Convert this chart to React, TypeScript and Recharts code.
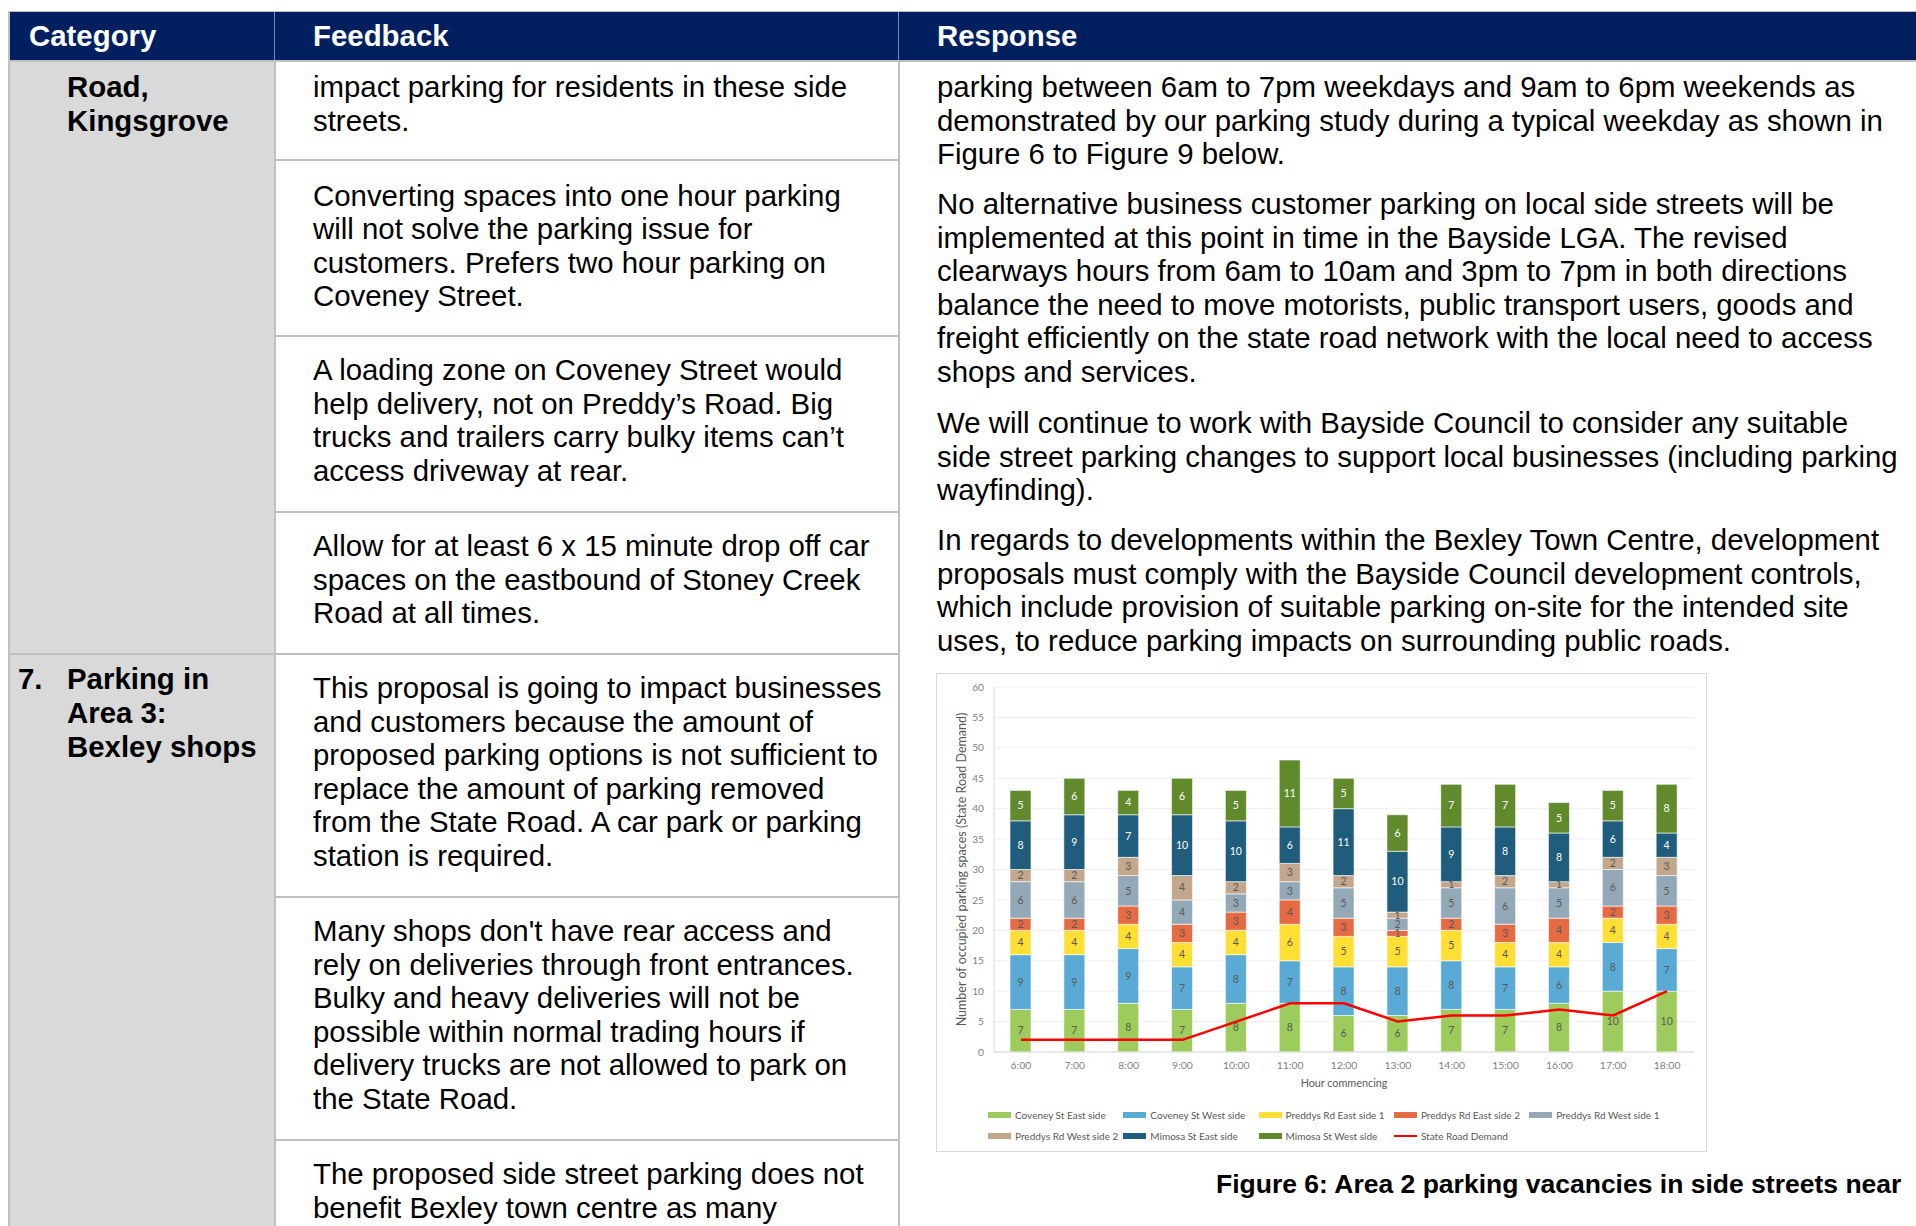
import React from 'react';
import { ComposedChart, Bar, Line, XAxis, YAxis, CartesianGrid, LabelList } from 'recharts';

// ---------- chart data ----------
const hours = ['6:00', '7:00', '8:00', '9:00', '10:00', '11:00', '12:00', '13:00', '14:00', '15:00', '16:00', '17:00', '18:00'];
const coveneyEast = [7, 7, 8, 7, 8, 8, 6, 6, 7, 7, 8, 10, 10];
const coveneyWest = [9, 9, 9, 7, 8, 7, 8, 8, 8, 7, 6, 8, 7];
const preddysEast1 = [4, 4, 4, 4, 4, 6, 5, 5, 5, 4, 4, 4, 4];
const preddysEast2 = [2, 2, 3, 3, 3, 4, 3, 1, 2, 3, 4, 2, 3];
const preddysWest1 = [6, 6, 5, 4, 3, 3, 5, 2, 5, 6, 5, 6, 5];
const preddysWest2 = [2, 2, 3, 4, 2, 3, 2, 1, 1, 2, 1, 2, 3];
const mimosaEast = [8, 9, 7, 10, 10, 6, 11, 10, 9, 8, 8, 6, 4];
const mimosaWest = [5, 6, 4, 6, 5, 11, 5, 6, 7, 7, 5, 5, 8];
const stateRoadDemand = [2, 2, 2, 2, 5, 8, 8, 5, 6, 6, 7, 6, 10];
const yTicks = [0, 5, 10, 15, 20, 25, 30, 35, 40, 45, 50, 55, 60];

const barSeries = [
  { key: 'ce', name: 'Coveney St East side', values: coveneyEast, color: '#9DCB5C', label: '#595959' },
  { key: 'cw', name: 'Coveney St West side', values: coveneyWest, color: '#5AAAD6', label: '#595959' },
  { key: 'pe1', name: 'Preddys Rd East side 1', values: preddysEast1, color: '#FFDF33', label: '#595959' },
  { key: 'pe2', name: 'Preddys Rd East side 2', values: preddysEast2, color: '#E56B45', label: '#595959' },
  { key: 'pw1', name: 'Preddys Rd West side 1', values: preddysWest1, color: '#93A9B8', label: '#595959' },
  { key: 'pw2', name: 'Preddys Rd West side 2', values: preddysWest2, color: '#C2A78C', label: '#595959' },
  { key: 'me', name: 'Mimosa St East side', values: mimosaEast, color: '#205C7B', label: '#ffffff' },
  { key: 'mw', name: 'Mimosa St West side', values: mimosaWest, color: '#618A2C', label: '#ffffff' },
];
const lineSeries = { key: 'srd', name: 'State Road Demand', values: stateRoadDemand, color: '#FF0000' };

const chartData = hours.map((h, i) => {
  const row: any = { hour: h };
  barSeries.forEach((s) => (row[s.key] = s.values[i]));
  row[lineSeries.key] = lineSeries.values[i];
  return row;
});

// ---------- document text ----------
const headerTitles = ['Category', 'Feedback', 'Response'];
const catRow1 = ['Road,', 'Kingsgrove'];
const catRow2 = ['Parking in', 'Area 3:', 'Bexley shops'];
const feedbackBlocks: { y: number; lines: string[] }[] = [
  { y: 87, lines: ['impact parking for residents in these side', 'streets.'] },
  { y: 195.5, lines: ['Converting spaces into one hour parking', 'will not solve the parking issue for', 'customers. Prefers two hour parking on', 'Coveney Street.'] },
  { y: 370, lines: ['A loading zone on Coveney Street would', 'help delivery, not on Preddy\u2019s Road. Big', 'trucks and trailers carry bulky items can\u2019t', 'access driveway at rear.'] },
  { y: 546, lines: ['Allow for at least 6 x 15 minute drop off car', 'spaces on the eastbound of Stoney Creek', 'Road at all times.'] },
  { y: 688, lines: ['This proposal is going to impact businesses', 'and customers because the amount of', 'proposed parking options is not sufficient to', 'replace the amount of parking removed', 'from the State Road. A car park or parking', 'station is required.'] },
  { y: 931, lines: ['Many shops don\'t have rear access and', 'rely on deliveries through front entrances.', 'Bulky and heavy deliveries will not be', 'possible within normal trading hours if', 'delivery trucks are not allowed to park on', 'the State Road.'] },
  { y: 1174, lines: ['The proposed side street parking does not', 'benefit Bexley town centre as many'] },
];
const responseBlocks: { y: number; lines: string[] }[] = [
  { y: 87, lines: ['parking between 6am to 7pm weekdays and 9am to 6pm weekends as', 'demonstrated by our parking study during a typical weekday as shown in', 'Figure 6 to Figure 9 below.'] },
  { y: 204, lines: ['No alternative business customer parking on local side streets will be', 'implemented at this point in time in the Bayside LGA. The revised', 'clearways hours from 6am to 10am and 3pm to 7pm in both directions', 'balance the need to move motorists, public transport users, goods and', 'freight efficiently on the state road network with the local need to access', 'shops and services.'] },
  { y: 423, lines: ['We will continue to work with Bayside Council to consider any suitable', 'side street parking changes to support local businesses (including parking', 'wayfinding).'] },
  { y: 540, lines: ['In regards to developments within the Bexley Town Centre, development', 'proposals must comply with the Bayside Council development controls,', 'which include provision of suitable parking on-site for the intended site', 'uses, to reduce parking impacts on surrounding public roads.'] },
];
const captionText = 'Figure 6: Area 2 parking vacancies in side streets near';

const FONT = '"Liberation Sans", Arial, Helvetica, sans-serif';
const CFONT = 'Lato, "Noto Sans", sans-serif';
const FS = 29.4;
const LH = 33.5;

function TextLines({ x, y, lines, bold, lh = LH, color = '#000000', size = FS }: any) {
  return (
    <div style={{ position: 'absolute', left: x, top: y - lh / 2, fontFamily: FONT, fontSize: size, fontWeight: bold ? 700 : 400, color, whiteSpace: 'nowrap' }}>
      {lines.map((l: string, i: number) => (
        <div key={i} style={{ height: lh, lineHeight: `${lh}px` }}>{l}</div>
      ))}
    </div>
  );
}

function Rect({ x, y, w, h, c }: any) {
  return <div style={{ position: 'absolute', left: x, top: y, width: w, height: h, background: c }} />;
}

const GRID = '#c0c0c0';

function Chart() {
  return (
    <ComposedChart
      width={769}
      height={477}
      data={chartData}
      margin={{ top: 13, right: 12, left: 0, bottom: 59 }}
      style={{ fontFamily: CFONT }}
    >
      <CartesianGrid vertical={false} stroke="#efefef" strokeWidth={1} />
      <XAxis
        dataKey="hour"
        height={40}
        tickLine={false}
        axisLine={{ stroke: '#d9d9d9' }}
        tickSize={6}
        tickMargin={4}
        tick={{ fontSize: 10.4, fill: '#7f7f7f', fontFamily: CFONT }}
        interval={0}
        label={{ value: 'Hour commencing', position: 'insideBottom', offset: 5, style: { fontSize: 10.8, fill: '#595959', fontFamily: CFONT } }}
      />
      <XAxis xAxisId="top" dataKey="hour" orientation="top" height={0} tick={false} tickLine={false} axisLine={{ stroke: '#d9d9d9' }} />
      <YAxis
        width={57}
        domain={[0, 60]}
        ticks={yTicks}
        tickLine={false}
        axisLine={{ stroke: '#d9d9d9' }}
        tickSize={6}
        tickMargin={4}
        tick={{ fontSize: 10.2, fill: '#7f7f7f', fontFamily: CFONT }}
        label={{ value: 'Number of occupied parking spaces (State Road Demand)', angle: -90, position: 'center', dx: -3.5, style: { fontSize: 12.5, fill: '#595959', fontFamily: CFONT } }}
      />
      <YAxis yAxisId="right" orientation="right" width={0} domain={[0, 60]} tick={false} tickLine={false} axisLine={{ stroke: '#d9d9d9' }} />
      {barSeries.map((s) => (
        <Bar key={s.key} dataKey={s.key} name={s.name} stackId="a" fill={s.color} barSize={21} stroke="#ffffff" strokeWidth={0.6} isAnimationActive={false}>
          <LabelList dataKey={s.key} position="center" fill={s.label} fontSize={10.5} fontFamily={CFONT} />
        </Bar>
      ))}
      <Line dataKey={lineSeries.key} name={lineSeries.name} stroke={lineSeries.color} strokeWidth={2.5} dot={false} activeDot={false} isAnimationActive={false} type="linear" />
    </ComposedChart>
  );
}

function Legend() {
  const items = [...barSeries.map((s) => ({ name: s.name, color: s.color, line: false })), { name: lineSeries.name, color: lineSeries.color, line: true }];
  return (
    <>
      {items.map((it, i) => {
        const col = i % 5;
        const row = Math.floor(i / 5);
        const left = 51 + col * 135.3;
        const top = 441 + row * 20.8;
        return (
          <div key={it.name} style={{ position: 'absolute', left, top: top - 7, height: 14, display: 'flex', alignItems: 'center', whiteSpace: 'nowrap' }}>
            <div style={{ width: 23, height: it.line ? 2.5 : 6, background: it.color }} />
            <span style={{ marginLeft: 4, fontFamily: CFONT, fontSize: 10, color: '#595959' }}>{it.name}</span>
          </div>
        );
      })}
    </>
  );
}

export default function App() {
  return (
    <div style={{ position: 'relative', width: 1916, height: 1226, overflow: 'hidden', background: '#fff' }}>
      <style>{`body{margin:0;background:#fff}`}</style>
      {/* header */}
      <Rect x={9} y={11} w={1907} h={1} c={GRID} />
      <Rect x={10} y={12} w={1906} h={48} c="#022060" />
      <Rect x={274} y={12} w={1} h={48} c="#7d8bb0" />
      <Rect x={898} y={12} w={1} h={48} c="#7d8bb0" />
      <div style={{ position: 'absolute', left: 29, top: 12, height: 48, lineHeight: '48px', fontFamily: FONT, fontWeight: 700, fontSize: FS, color: '#fff' }}>{headerTitles[0]}</div>
      <div style={{ position: 'absolute', left: 313, top: 12, height: 48, lineHeight: '48px', fontFamily: FONT, fontWeight: 700, fontSize: FS, color: '#fff' }}>{headerTitles[1]}</div>
      <div style={{ position: 'absolute', left: 937, top: 12, height: 48, lineHeight: '48px', fontFamily: FONT, fontWeight: 700, fontSize: FS, color: '#fff' }}>{headerTitles[2]}</div>
      {/* category column */}
      <Rect x={10} y={60} w={265} h={1166} c="#d9d9d9" />
      <Rect x={8} y={11} w={2} h={1215} c={GRID} />
      <Rect x={10} y={60} w={1906} h={2} c={GRID} />
      <Rect x={274} y={60} w={2} h={1166} c={GRID} />
      <Rect x={898} y={60} w={2} h={1166} c={GRID} />
      {[159, 335, 511, 896, 1139].map((y) => (
        <Rect key={y} x={275} y={y} w={624} h={2} c={GRID} />
      ))}
      <Rect x={10} y={653} w={889} h={2} c={GRID} />
      <TextLines x={67} y={87} lines={catRow1} bold lh={33.5} />
      <TextLines x={18} y={679} lines={['7.']} bold lh={34} />
      <TextLines x={67} y={679} lines={catRow2} bold lh={34.2} />
      {feedbackBlocks.map((b, i) => (
        <TextLines key={i} x={313} y={b.y} lines={b.lines} />
      ))}
      {responseBlocks.map((b, i) => (
        <TextLines key={i} x={937} y={b.y} lines={b.lines} />
      ))}
      {/* chart box */}
      <div style={{ position: 'absolute', left: 936, top: 673, width: 771, height: 479, boxSizing: 'border-box', border: '1px solid #d9d9d9', background: '#fff' }}>
        <div style={{ position: 'absolute', left: 0, top: 0 }}>
          <Chart />
        </div>
        <Legend />
      </div>
      <div style={{ position: 'absolute', left: 1216, top: 1184 - 16, height: 32, lineHeight: '32px', fontFamily: FONT, fontWeight: 700, fontSize: 26.5, color: '#000000', whiteSpace: 'nowrap' }}>{captionText}</div>
    </div>
  );
}
